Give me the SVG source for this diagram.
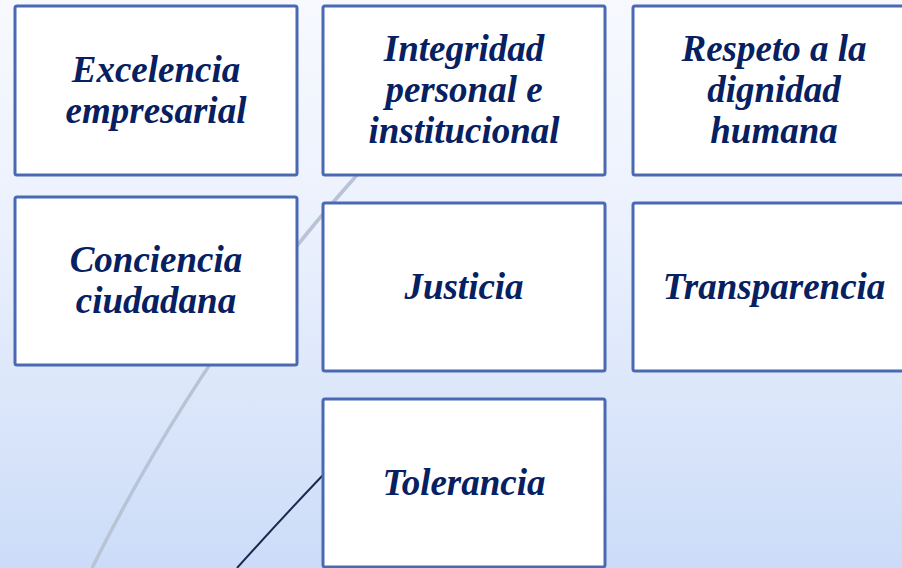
<svg xmlns="http://www.w3.org/2000/svg" width="902" height="568" viewBox="0 0 902 568">
<defs>
<linearGradient id="bg" x1="0" y1="0" x2="0" y2="1">
<stop offset="0" stop-color="#F7F9FE"/>
<stop offset="0.4" stop-color="#EBF1FD"/>
<stop offset="1" stop-color="#CCDCF8"/>
</linearGradient>
<style>
.box{fill:#FFFFFF;stroke:#4A69B3;stroke-width:3}
.t{font-family:"Liberation Serif","Times New Roman",serif;font-weight:bold;font-style:italic;font-size:37px;fill:#062061;text-anchor:middle}
</style>
</defs>
<rect x="0" y="0" width="902" height="568" fill="url(#bg)"/>
<g id="connectors">
<path d="M357,175 Q203,346 92,568" fill="none" stroke="#B9C3D6" stroke-width="3.5"/>
<path d="M323,475 Q282,518 237,568" fill="none" stroke="#1E2750" stroke-width="2"/>
</g>
<g id="n1"><rect class="box" x="15" y="6" width="282" height="169" rx="2"/>
<text class="t" x="156" y="82">Excelencia</text><text class="t" x="156" y="123">empresarial</text></g>
<g id="n2"><rect class="box" x="323" y="6" width="282" height="169" rx="2"/>
<text class="t" x="464" y="61">Integridad</text><text class="t" x="464" y="102">personal e</text><text class="t" x="464" y="143">institucional</text></g>
<g id="n3"><rect class="box" x="633" y="6" width="282" height="169" rx="2"/>
<text class="t" x="774" y="61">Respeto a la</text><text class="t" x="774" y="102">dignidad</text><text class="t" x="774" y="143">humana</text></g>
<g id="n4"><rect class="box" x="15" y="197" width="282" height="168" rx="2"/>
<text class="t" x="156" y="272">Conciencia</text><text class="t" x="156" y="313">ciudadana</text></g>
<g id="n5"><rect class="box" x="323" y="203" width="282" height="168" rx="2"/>
<text class="t" x="464" y="299">Justicia</text></g>
<g id="n6"><rect class="box" x="633" y="203" width="282" height="168" rx="2"/>
<text class="t" x="774" y="299">Transparencia</text></g>
<g id="n7"><rect class="box" x="323" y="399" width="282" height="168" rx="2"/>
<text class="t" x="464" y="495">Tolerancia</text></g>
</svg>
